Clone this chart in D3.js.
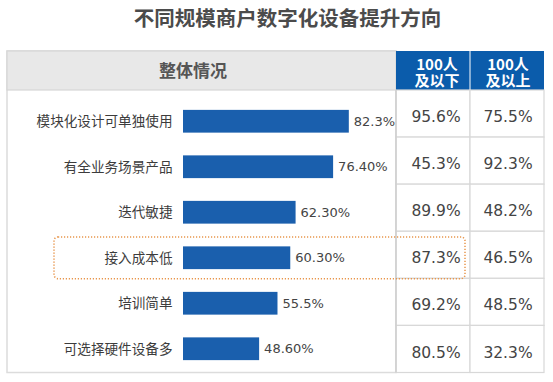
<!DOCTYPE html>
<html><head><meta charset="utf-8">
<script src="https://cdn.jsdelivr.net/npm/d3@7"></script>
<style>
html,body{margin:0;padding:0;background:#fff;}
svg{display:block;}
</style></head>
<body>
<svg id="chart" width="553" height="382"></svg>
<script>
const title = "不同规模商户数字化设备提升方向";
const overallHeader = "整体情况";
const groupHeaders = [["100人","及以下"],["100人","及以上"]];
const categories = ["模块化设计可单独使用","有全业务场景产品","迭代敏捷","接入成本低","培训简单","可选择硬件设备多"];
const overall = [82.3, 76.4, 62.3, 60.3, 55.5, 48.6];
const overallLabels = ["82.3%","76.40%","62.30%","60.30%","55.5%","48.60%"];
const small = [95.6, 45.3, 89.9, 87.3, 69.2, 80.5];
const large = [75.5, 92.3, 48.2, 46.5, 48.5, 32.3];
const highlighted = "接入成本低";

(function(){
const svg = d3.select("#chart");
const CJK = "'Noto Sans CJK SC','Noto Sans',sans-serif";
const NUM = "'DejaVu Sans','Noto Sans CJK SC',sans-serif";

// title
svg.append("text").attr("x", 287.5).attr("y", 19).attr("dy","0.36em")
  .attr("text-anchor","middle").attr("font-family",CJK).attr("font-weight","bold")
  .attr("font-size","20.5px").attr("fill","#4b4b4b").text(title);

// panel geometry
const L = 7, divX = 396, R = 544, panelTop = 51, headB = 90, bottom = 372.5;
const cols = d3.scaleBand().domain([0,1]).range([divX, R]);
const rows = d3.scaleBand().domain(d3.range(categories.length)).range([headB, bottom]);

// left panel
svg.append("rect").attr("x",L).attr("y",panelTop).attr("width",divX-L).attr("height",bottom-panelTop)
  .attr("fill","#fff").attr("stroke","#dcdcdc").attr("stroke-width",1.5);
svg.append("rect").attr("x",L).attr("y",panelTop).attr("width",divX-L).attr("height",headB-panelTop)
  .attr("fill","#e8e8e8").attr("stroke","#d6d6d6").attr("stroke-width",1.2);
svg.append("text").attr("x",193).attr("y",(panelTop+headB)/2).attr("dy","0.36em")
  .attr("text-anchor","middle").attr("font-family",CJK).attr("font-weight","bold")
  .attr("font-size","17px").attr("fill","#555").text(overallHeader);

// table header
groupHeaders.forEach((h,i)=>{
  const x0 = cols(i), w = cols.bandwidth();
  svg.append("rect").attr("x",x0).attr("y",panelTop).attr("width",w).attr("height",headB-panelTop)
    .attr("fill","#0b5cab");
  const t = svg.append("text").attr("text-anchor","middle").attr("font-family",CJK)
    .attr("font-weight","bold").attr("font-size","15px").attr("fill","#fff");
  const cx = x0 + w/2 + (i===0?4:1);
  t.append("tspan").attr("x",cx).attr("y",69.5).text(h[0]);
  t.append("tspan").attr("x",cx).attr("y",86).text(h[1]);
});
svg.append("line").attr("x1",cols(1)).attr("x2",cols(1)).attr("y1",panelTop).attr("y2",headB)
  .attr("stroke","#ffffff").attr("stroke-width",1);

// table cells
const tbl = svg.append("g");
categories.forEach((c,r)=>{
  [small[r], large[r]].forEach((v,i)=>{
    tbl.append("rect").attr("x",cols(i)).attr("y",rows(r)).attr("width",cols.bandwidth())
      .attr("height",rows.bandwidth()).attr("fill","#fff").attr("stroke","#d8d8d8").attr("stroke-width",1.2);
    tbl.append("text").attr("x",cols(i)+cols.bandwidth()/2+(i===0?3:1))
      .attr("y",rows(r)+rows.bandwidth()/2+3).attr("dy","0.36em")
      .attr("text-anchor","middle").attr("font-family",NUM).attr("font-size","15.5px")
      .attr("fill","#444").text(v.toFixed(1)+"%");
  });
});
svg.append("line").attr("x1",divX).attr("x2",divX).attr("y1",headB).attr("y2",bottom)
  .attr("stroke","#cfcfcf").attr("stroke-width",1.5);

// bars
const barX0 = 183;
const x = d3.scaleLinear().domain([20, 85]).range([0, 173]);
const y = d3.scaleBand().domain(categories).range([98.5, 371.5]).paddingInner(0.5).paddingOuter(0.25);

const g = svg.append("g");
g.selectAll("rect.bar").data(categories).join("rect").attr("class","bar")
  .attr("x",barX0).attr("y",d=>y(d)).attr("height",y.bandwidth())
  .attr("width",(d,i)=>x(overall[i])).attr("fill","#1a5fad");
g.selectAll("text.cat").data(categories).join("text").attr("class","cat")
  .attr("x",172.5).attr("y",d=>y(d)+y.bandwidth()/2).attr("dy","0.36em")
  .attr("text-anchor","end").attr("font-family",CJK).attr("font-size","13.6px")
  .attr("fill","#3c3c3c").text(d=>d);
g.selectAll("text.val").data(categories).join("text").attr("class","val")
  .attr("x",(d,i)=>barX0+x(overall[i])+5).attr("y",d=>y(d)+y.bandwidth()/2).attr("dy","0.36em")
  .attr("font-family",NUM).attr("font-size","13px").attr("fill","#444")
  .text((d,i)=>overallLabels[i]);

// highlight dotted box
const hy = y(highlighted);
svg.append("rect").attr("x",54).attr("y",hy-9.5).attr("width",465-54).attr("height",y.bandwidth()+19)
  .attr("rx",4).attr("ry",4).attr("fill","none").attr("stroke","#e8964c")
  .attr("stroke-width",1.5).attr("stroke-dasharray","1.2,1.8");
})();
</script>
</body></html>
